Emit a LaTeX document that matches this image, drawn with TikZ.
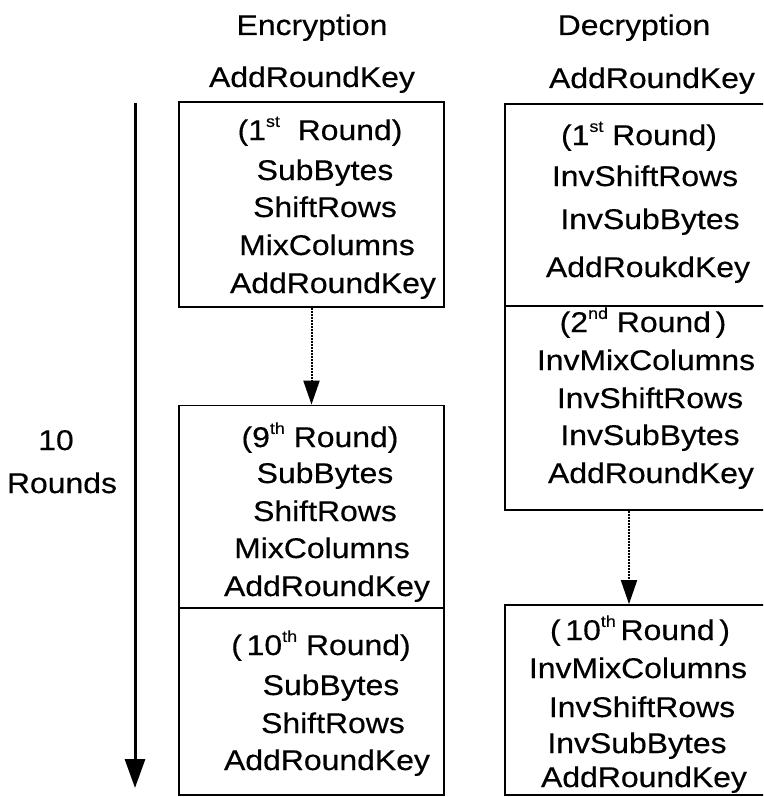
\documentclass[tikz,border=0pt]{standalone}
\usepackage{fontspec}
\setmainfont{Liberation Sans}[FakeStretch=1.12,FakeBold=0.4]
\usetikzlibrary{arrows.meta}
\newcommand\ordsup[1]{\raisebox{0.46em}{\fontsize{16}{16}\selectfont #1}}
\begin{document}
\begin{tikzpicture}[x=1pt,y=-1pt,
  box/.style={draw, line width=1.8pt, inner sep=0pt},
  lbl/.style={anchor=base, inner sep=0pt, font=\fontsize{28.5}{34}\selectfont},
  bigarrow/.style={line width=3pt, -{Triangle[length=29pt,width=20pt]}},
  dotarrow/.style={dash pattern=on 1.6pt off 1.4pt, line width=2pt, -{Triangle[length=24pt,width=16pt]}}]
\useasboundingbox (0,0) rectangle (763,797);
\clip (0,0) rectangle (763,797);
% headings
\node[lbl] (enc) at (312,35) {Encryption};
\node[lbl] (eark) at (312,87) {AddRoundKey};
\node[lbl] (dec) at (634,35) {Decryption};
\node[lbl] (dark) at (652,88) {AddRoundKey};
\node[lbl] (ten) at (56,450) {10};
\node[lbl] (rounds) at (62,493) {Rounds};
% big arrow
\coordinate (ta) at (135,103);
\coordinate (tb) at (135,788);
\draw[bigarrow] (ta) -- (tb);
% encryption boxes
\node[box, minimum width=265pt, minimum height=205pt] (e1) at (311.5,204.5) {};
\node[box, minimum width=265pt, minimum height=202pt] (e2) at (311.5,506.5) {};
\node[box, minimum width=265pt, minimum height=187pt] (e3) at (311.5,701.5) {};
\draw[dotarrow] (e1.south) -- (e2.north);
% decryption boxes
\node[box, minimum width=280pt, minimum height=202pt] (d1) at (645,205) {};
\node[box, minimum width=280pt, minimum height=204pt] (d2) at (645,408) {};
\node[box, minimum width=280pt, minimum height=190pt] (d3) at (645,700) {};
\coordinate (dx) at (629,0);
\draw[dotarrow] (d2.south -| dx) -- (d3.north -| dx);
% encryption texts
\node[lbl] (e1a) at (320,140) {(1\ordsup{st}\ \ Round)};
\node[lbl] (e1b) at (325,180) {SubBytes};
\node[lbl] (e1c) at (325,217) {ShiftRows};
\node[lbl] (e1d) at (327,255) {MixColumns};
\node[lbl] (e1e) at (333,293) {AddRoundKey};
\node[lbl] (e2a) at (320,447) {(9\ordsup{th}\ Round)};
\node[lbl] (e2b) at (325,483) {SubBytes};
\node[lbl] (e2c) at (325,521) {ShiftRows};
\node[lbl] (e2d) at (322,558) {MixColumns};
\node[lbl] (e2e) at (327,596) {AddRoundKey};
\node[lbl] (e3a) at (321,655) {(\,10\ordsup{th}\ Round)};
\node[lbl] (e3b) at (331,695) {SubBytes};
\node[lbl] (e3c) at (333,733) {ShiftRows};
\node[lbl] (e3d) at (327,770) {AddRoundKey};
% decryption texts
\node[lbl] (d1a) at (639,145) {(1\ordsup{st}\ Round)};
\node[lbl] (d1b) at (645,186) {InvShiftRows};
\node[lbl] (d1c) at (650,229) {InvSubBytes};
\node[lbl] (d1d) at (648,277) {AddRoukdKey};
\node[lbl] (d2a) at (643,332) {(2\ordsup{nd}\ Round\,)};
\node[lbl] (d2b) at (646,370) {InvMixColumns};
\node[lbl] (d2c) at (650,408) {InvShiftRows};
\node[lbl] (d2d) at (650,445) {InvSubBytes};
\node[lbl] (d2e) at (651,483) {AddRoundKey};
\node[lbl] (d3a) at (640,640) {(\,10\ordsup{th}\,Round\,)};
\node[lbl] (d3b) at (638,678) {InvMixColumns};
\node[lbl] (d3c) at (642,717) {InvShiftRows};
\node[lbl] (d3d) at (637,753) {InvSubBytes};
\node[lbl] (d3e) at (644,787) {AddRoundKey};
\end{tikzpicture}
\end{document}
